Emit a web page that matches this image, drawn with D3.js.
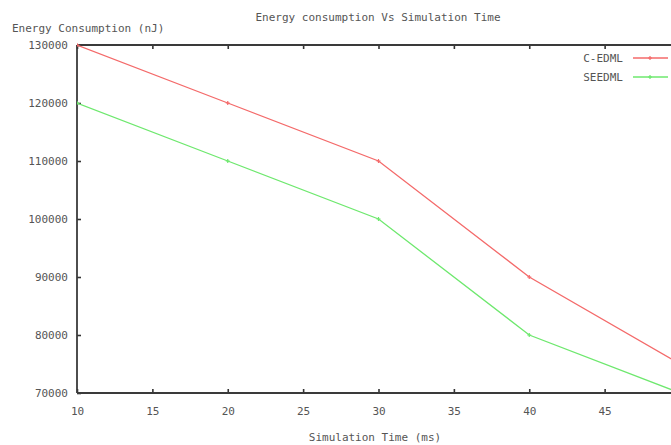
<!DOCTYPE html>
<html>
<head>
<meta charset="utf-8">
<script src="https://cdn.jsdelivr.net/npm/d3@7"></script>
<style>
  body { margin: 0; background: #fff; }
  svg { display: block; }
  text { font-family: "DejaVu Sans Mono", monospace; fill: #555; }
</style>
</head>
<body>
<svg width="671" height="445"></svg>
<script>
// data
const simTime = [10, 20, 30, 40, 50];
const cEdml = [130000, 120000, 110000, 90000, 75000];
const seedml = [120000, 110000, 100000, 80000, 70000];
const seriesNames = ["C-EDML", "SEEDML"];
const seriesColors = ["#f46a6a", "#6ee86e"];
const xTicks = [10, 15, 20, 25, 30, 35, 40, 45];
const yTicks = [70000, 80000, 90000, 100000, 110000, 120000, 130000];

const svg = d3.select("svg");

const plotLeft = 77, plotTop = 45, plotBottom = 393;
const plotRight = 680; // x=50 falls just off the picture

const x = d3.scaleLinear().domain([10, 50]).range([plotLeft, plotRight]);
const y = d3.scaleLinear().domain([70000, 130000]).range([plotBottom, plotTop]);

// clip so the lines run off the right edge like the original
svg.append("defs").append("clipPath").attr("id", "plot")
  .append("rect").attr("x", plotLeft).attr("y", plotTop - 2)
  .attr("width", plotRight - plotLeft + 2).attr("height", plotBottom - plotTop + 4);

// bottom and left axes with inward ticks
svg.append("g")
  .attr("transform", `translate(0,${plotBottom})`)
  .call(d3.axisBottom(x).tickValues(xTicks).tickSize(-4).tickPadding(14).tickFormat(d3.format("d")))
  .call(g => g.select(".domain").remove())
  .call(g => g.selectAll("line").attr("stroke", "#333").attr("stroke-width", 1.6))
  .call(g => g.selectAll("text").attr("font-size", 11).attr("fill", "#666"));

svg.append("g")
  .attr("transform", `translate(${plotLeft},0)`)
  .call(d3.axisLeft(y).tickValues(yTicks).tickSize(-4).tickPadding(9).tickFormat(d3.format("d")))
  .call(g => g.select(".domain").remove())
  .call(g => g.selectAll("line").attr("stroke", "#333").attr("stroke-width", 1.6))
  .call(g => g.selectAll("text").attr("font-size", 11).attr("fill", "#666"));

// mirrored ticks on top
svg.append("g")
  .attr("transform", `translate(0,${plotTop})`)
  .call(d3.axisTop(x).tickValues(xTicks).tickSize(-4).tickFormat(""))
  .call(g => g.select(".domain").remove())
  .call(g => g.selectAll("line").attr("stroke", "#333").attr("stroke-width", 1.6));

const frame = svg.append("g").attr("stroke", "#3a3a3a").attr("stroke-width", 1.8);
frame.append("line").attr("x1", plotLeft).attr("x2", 671).attr("y1", plotTop).attr("y2", plotTop);
frame.append("line").attr("x1", plotLeft).attr("x2", 671).attr("y1", plotBottom).attr("y2", plotBottom);
frame.append("line").attr("x1", plotLeft).attr("x2", plotLeft).attr("y1", plotTop).attr("y2", plotBottom);

const line = d3.line()
  .x((d, i) => x(simTime[i]))
  .y(d => y(d));

const plot = svg.append("g").attr("clip-path", "url(#plot)");

[cEdml, seedml].forEach((vals, k) => {
  plot.append("path")
    .datum(vals)
    .attr("fill", "none")
    .attr("stroke", seriesColors[k])
    .attr("stroke-width", 1.3)
    .attr("d", line);

  plot.selectAll(null)
    .data(vals)
    .enter().append("path")
    .attr("d", (d, i) => {
      const px = x(simTime[i]), py = y(d);
      return `M${px - 2},${py}H${px + 2}M${px},${py - 2}V${py + 2}`;
    })
    .attr("stroke", seriesColors[k])
    .attr("stroke-width", 1.2);
});

// legend
seriesNames.forEach((name, k) => {
  const ly = 58 + k * 19;
  svg.append("text")
    .attr("x", 623).attr("y", ly + 4)
    .attr("text-anchor", "end")
    .attr("font-size", 11)
    .text(name);
  svg.append("line")
    .attr("x1", 633).attr("x2", 668).attr("y1", ly).attr("y2", ly)
    .attr("stroke", seriesColors[k]).attr("stroke-width", 1.3);
  svg.append("path")
    .attr("d", `M648,${ly}H652M650,${ly - 2}V${ly + 2}`)
    .attr("stroke", seriesColors[k]).attr("stroke-width", 1.2);
});

// titles
svg.append("text")
  .attr("x", 378).attr("y", 21)
  .attr("text-anchor", "middle")
  .attr("font-size", 11)
  .text("Energy consumption Vs Simulation Time");

svg.append("text")
  .attr("x", 12).attr("y", 32)
  .attr("font-size", 11)
  .text("Energy Consumption (nJ)");

svg.append("text")
  .attr("x", 375).attr("y", 441)
  .attr("text-anchor", "middle")
  .attr("font-size", 11)
  .text("Simulation Time (ms)");
</script>
</body>
</html>
